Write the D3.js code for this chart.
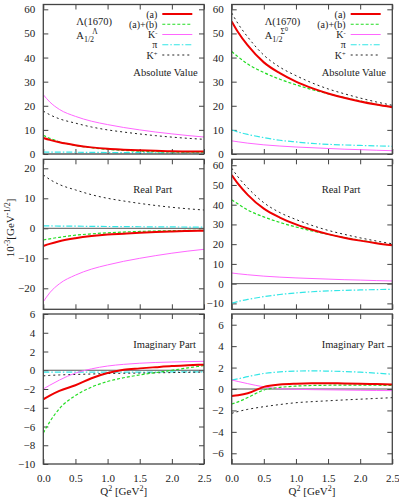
<!DOCTYPE html>
<html><head><meta charset="utf-8">
<script src="https://cdn.jsdelivr.net/npm/d3@7"></script>
<style>body{margin:0;background:#fff} svg{display:block}</style>
</head><body><svg id="c" width="399" height="499"></svg>
<script>
// ---------- data ----------
const q2 = [0, 0.1, 0.25, 0.5, 0.75, 1.0, 1.25, 1.5, 1.75, 2.0, 2.25, 2.5];
const xTicks = [0, 0.5, 1.0, 1.5, 2.0, 2.5];
const seriesKeys = ["a", "ab", "Km", "pi", "Kp"];

// Lambda(1670) A_1/2^Lambda : absolute value
const lamAbsA  = [6.65, 5.85, 4.85, 3.65, 2.75, 2.15, 1.8, 1.52, 1.3, 1.15, 1.05, 1.0];
const lamAbsAB = [7.75, 6.5, 5.1, 3.55, 2.6, 1.92, 1.48, 1.16, 0.95, 0.82, 0.76, 0.8];
const lamAbsKm = [24.6, 21.6, 18.5, 15.6, 13.6, 12.2, 11.0, 10.0, 9.1, 8.35, 7.65, 7.05];
const lamAbsPi = [0.82, 0.8, 0.78, 0.73, 0.68, 0.63, 0.59, 0.55, 0.51, 0.48, 0.45, 0.44];
const lamAbsKp = [17.8, 16.3, 14.6, 12.8, 11.2, 10.0, 9.1, 8.3, 7.6, 7.0, 6.5, 6.1];
// real part
const lamReA  = [-5.9, -5.2, -4.3, -3.3, -2.6, -2.1, -1.8, -1.5, -1.25, -1.05, -0.9, -0.8];
const lamReAB = [-3.9, -3.5, -3.0, -2.3, -1.85, -1.5, -1.25, -1.05, -0.9, -0.8, -0.7, -0.65];
const lamReKm = [-24.5, -21.5, -18.5, -15.6, -13.6, -12.2, -11.0, -10.0, -9.1, -8.3, -7.6, -7.0];
const lamRePi = [0.8, 0.78, 0.75, 0.7, 0.65, 0.6, 0.56, 0.52, 0.48, 0.45, 0.42, 0.4];
const lamReKp = [17.8, 16.3, 14.6, 12.8, 11.2, 10.0, 9.1, 8.3, 7.6, 7.0, 6.5, 6.1];
// imaginary part
const lamImA  = [-3.1, -2.7, -2.2, -1.6, -0.85, -0.3, 0.05, 0.2, 0.33, 0.45, 0.53, 0.6];
const lamImAB = [-6.7, -5.5, -4.1, -2.7, -1.8, -1.2, -0.8, -0.5, -0.25, 0.0, 0.25, 0.5];
const lamImKm = [-2.0, -1.6, -1.05, -0.3, 0.15, 0.45, 0.63, 0.75, 0.83, 0.88, 0.92, 0.95];
const lamImPi = [-0.2, -0.2, -0.2, -0.2, -0.2, -0.2, -0.2, -0.19, -0.19, -0.18, -0.18, -0.18];
const lamImKp = [-0.6, -0.55, -0.5, -0.45, -0.4, -0.35, -0.32, -0.3, -0.27, -0.25, -0.22, -0.2];

// Lambda(1670) A_1/2^Sigma0 : absolute value
const sigAbsA  = [55.0, 50.5, 45.0, 38.0, 33.5, 30.0, 27.3, 25.1, 23.3, 21.8, 20.5, 19.4];
const sigAbsAB = [42.5, 40.3, 37.3, 33.8, 31.0, 28.7, 26.7, 25.0, 23.4, 22.0, 20.6, 19.3];
const sigAbsKm = [5.45, 5.05, 4.5, 3.8, 3.3, 2.9, 2.6, 2.3, 2.0, 1.8, 1.56, 1.36];
const sigAbsPi = [9.95, 9.1, 8.1, 6.8, 5.7, 5.0, 4.4, 4.0, 3.75, 3.55, 3.35, 3.2];
const sigAbsKp = [58.5, 54.0, 48.5, 41.0, 36.0, 32.5, 29.5, 27.0, 25.0, 23.2, 21.6, 20.2];
// real part
const sigReA  = [55.0, 50.5, 45.0, 38.0, 33.5, 30.0, 27.3, 25.1, 23.3, 21.8, 20.5, 19.4];
const sigReAB = [42.5, 40.3, 37.3, 33.8, 31.0, 28.7, 26.7, 25.0, 23.4, 22.0, 20.6, 19.3];
const sigReKm = [5.4, 5.0, 4.5, 3.8, 3.3, 2.9, 2.6, 2.3, 2.0, 1.8, 1.55, 1.35];
const sigRePi = [-9.9, -9.0, -8.0, -6.6, -5.5, -4.7, -4.1, -3.7, -3.4, -3.2, -3.0, -2.9];
const sigReKp = [58.5, 54.0, 48.5, 41.0, 36.0, 32.5, 29.5, 27.0, 25.0, 23.2, 21.6, 20.2];
// imaginary part
const sigImA  = [-0.65, -0.58, -0.4, 0.2, 0.42, 0.5, 0.53, 0.53, 0.52, 0.5, 0.46, 0.42];
const sigImAB = [-1.4, -1.2, -0.8, -0.1, 0.15, 0.27, 0.33, 0.35, 0.36, 0.36, 0.35, 0.33];
const sigImKm = [0.84, 0.7, 0.5, 0.2, 0.03, -0.03, -0.06, -0.08, -0.1, -0.12, -0.14, -0.15];
const sigImPi = [0.84, 0.95, 1.15, 1.45, 1.6, 1.67, 1.69, 1.67, 1.63, 1.57, 1.48, 1.38];
const sigImKp = [-2.27, -2.1, -1.9, -1.65, -1.45, -1.28, -1.18, -1.1, -1.02, -0.95, -0.88, -0.81];

// ---------- styles ----------
const styles = {
  a:  {color: "#ee0000", width: 2.0, dash: null},
  ab: {color: "#22dd22", width: 1.2, dash: "3,2"},
  Km: {color: "#ff66ff", width: 1.0, dash: null},
  pi: {color: "#33e6e6", width: 1.2, dash: "6,2,1.5,2"},
  Kp: {color: "#222222", width: 1.0, dash: "2,3"}
};
const font = "'Liberation Serif','Times New Roman',serif";

const colX = [[43.3, 204], [231.7, 392.3]];
const rowY = [[4.5, 154], [159.3, 309.3], [314, 464]];

const panels = [
  {col:0,row:0, dom:[0,62],   ticks:[0,10,20,30,40,50,60], label:"Absolute Value",
   data:[lamAbsA,lamAbsAB,lamAbsKm,lamAbsPi,lamAbsKp], legend:true, title:"Λ", zero:false},
  {col:1,row:0, dom:[0,62],   ticks:[0,10,20,30,40,50,60], label:"Absolute Value",
   data:[sigAbsA,sigAbsAB,sigAbsKm,sigAbsPi,sigAbsKp], legend:true, title:"Σ", zero:false},
  {col:0,row:1, dom:[-27,23], ticks:[-20,-10,0,10,20], label:"Real Part",
   data:[lamReA,lamReAB,lamReKm,lamRePi,lamReKp], zero:true},
  {col:1,row:1, dom:[-13,63], ticks:[-10,0,10,20,30,40,50,60], label:"Real Part",
   data:[sigReA,sigReAB,sigReKm,sigRePi,sigReKp], zero:true},
  {col:0,row:2, dom:[-10,6],  ticks:[-10,-8,-6,-4,-2,0,2,4,6], label:"Imaginary Part",
   data:[lamImA,lamImAB,lamImKm,lamImPi,lamImKp], zero:true, xlab:true},
  {col:1,row:2, dom:[-7,7],   ticks:[-6,-4,-2,0,2,4,6], label:"Imaginary Part",
   data:[sigImA,sigImAB,sigImKm,sigImPi,sigImKp], zero:true, xlab:true}
];

const svg = d3.select("#c");
const defs = svg.append("defs");

panels.forEach((p, i) => {
  const [x0, x1] = colX[p.col];
  const [y0, y1] = rowY[p.row];
  const x = d3.scaleLinear().domain([0, 2.5]).range([x0, x1]);
  const y = d3.scaleLinear().domain(p.dom).range([y1, y0]);
  const g = svg.append("g");

  defs.append("clipPath").attr("id", "clip" + i).append("rect")
    .attr("x", x0).attr("y", y0).attr("width", x1 - x0).attr("height", y1 - y0);

  // axes (ticks inside)
  const axL = d3.axisLeft(y).tickValues(p.ticks).tickSize(-5).tickPadding(8).tickFormat(d3.format("d"));
  const axR = d3.axisRight(y).tickValues(p.ticks).tickSize(-5).tickFormat("");
  const axB = d3.axisBottom(x).tickValues(xTicks).tickSize(-5).tickPadding(10).tickFormat(p.xlab ? d3.format(".1f") : "");
  const axT = d3.axisTop(x).tickValues(xTicks).tickSize(-5).tickFormat("");
  [[axL, `translate(${x0},0)`], [axR, `translate(${x1},0)`], [axB, `translate(0,${y1})`], [axT, `translate(0,${y0})`]]
    .forEach(([ax, tr]) => {
      const a = g.append("g").attr("transform", tr).call(ax);
      a.select(".domain").remove();
      a.selectAll("line").attr("stroke", "#444").attr("stroke-width", 1);
      a.selectAll("text").attr("font-family", font).attr("font-size", 11).attr("fill", "#222");
    });

  // zero line
  if (p.zero) {
    g.append("line").attr("x1", x0).attr("x2", x1).attr("y1", y(0)).attr("y2", y(0))
      .attr("stroke", "#555").attr("stroke-width", 1);
  }

  // curves
  const line = d3.line().x((d, k) => x(q2[k])).y(d => y(d)).curve(d3.curveMonotoneX);
  const cg = g.append("g").attr("clip-path", `url(#clip${i})`);
  [3, 4, 2, 1, 0].forEach(si => {
    const st = styles[seriesKeys[si]];
    cg.append("path").attr("d", line(p.data[si])).attr("fill", "none")
      .attr("stroke", st.color).attr("stroke-width", st.width)
      .attr("stroke-dasharray", st.dash);
  });

  // frame
  g.append("rect").attr("x", x0).attr("y", y0).attr("width", x1 - x0).attr("height", y1 - y0)
    .attr("fill", "none").attr("stroke", "#444").attr("stroke-width", 1.3);

  // panel label
  const lblY = p.row === 0 ? 76 : (p.row === 1 ? 193 : 348);
  g.append("text").attr("x", x0 + 90).attr("y", lblY).attr("font-family", font)
    .attr("font-size", 10.5).attr("fill", "#222").text(p.label);

  if (p.legend) {
    // title
    g.append("text").attr("x", x0 + 33).attr("y", 25).attr("font-family", font)
      .attr("font-size", 10.5).attr("fill", "#222").text("Λ(1670)");
    const t2 = g.append("text").attr("x", x0 + 33).attr("y", 38.5).attr("font-family", font)
      .attr("font-size", 10.5).attr("fill", "#222");
    t2.append("tspan").text("A");
    t2.append("tspan").attr("dy", 3).attr("font-size", 8).text("1/2");
    t2.append("tspan").attr("dx", -2).attr("dy", -8).attr("font-size", 7.5).text(p.title);
    if (p.title === "Σ") t2.append("tspan").attr("dy", -2.5).attr("font-size", 6).text("0");

    const labels = [["(a)", ""], ["(a)+(b)", ""], ["K", "-"], ["π", ""], ["K", "+"]];
    labels.forEach((lb, k) => {
      const cy = 14 + 10.25 * k;
      const st = styles[seriesKeys[k]];
      const tx = g.append("text").attr("x", x0 + 114).attr("y", cy + 3.5).attr("text-anchor", "end")
        .attr("font-family", font).attr("font-size", 10).attr("fill", "#222");
      tx.append("tspan").text(lb[0]);
      if (lb[1]) tx.append("tspan").attr("dy", -3).attr("font-size", 6.5).text(lb[1]);
      g.append("line").attr("x1", x0 + 119).attr("x2", x0 + 149).attr("y1", cy).attr("y2", cy)
        .attr("stroke", st.color).attr("stroke-width", st.width).attr("stroke-dasharray", st.dash);
    });
  }

  if (p.xlab) {
    const xl = g.append("text").attr("x", (x0 + x1) / 2).attr("y", 495).attr("text-anchor", "middle")
      .attr("font-family", font).attr("font-size", 11).attr("fill", "#222");
    xl.append("tspan").text("Q");
    xl.append("tspan").attr("dy", -4).attr("font-size", 8).text("2");
    xl.append("tspan").attr("dy", 4).text(" [GeV");
    xl.append("tspan").attr("dy", -4).attr("font-size", 8).text("2");
    xl.append("tspan").attr("dy", 4).text("]");
  }
});

// y-axis label
const yl = svg.append("text").attr("transform", "translate(14,228) rotate(-90)")
  .attr("text-anchor", "middle").attr("font-family", font).attr("font-size", 11).attr("fill", "#222");
yl.append("tspan").text("10");
yl.append("tspan").attr("dy", -4).attr("font-size", 8).text("-3");
yl.append("tspan").attr("dy", 4).text("[GeV");
yl.append("tspan").attr("dy", -4).attr("font-size", 8).text("-1/2");
yl.append("tspan").attr("dy", 4).text("]");
</script></body></html>
